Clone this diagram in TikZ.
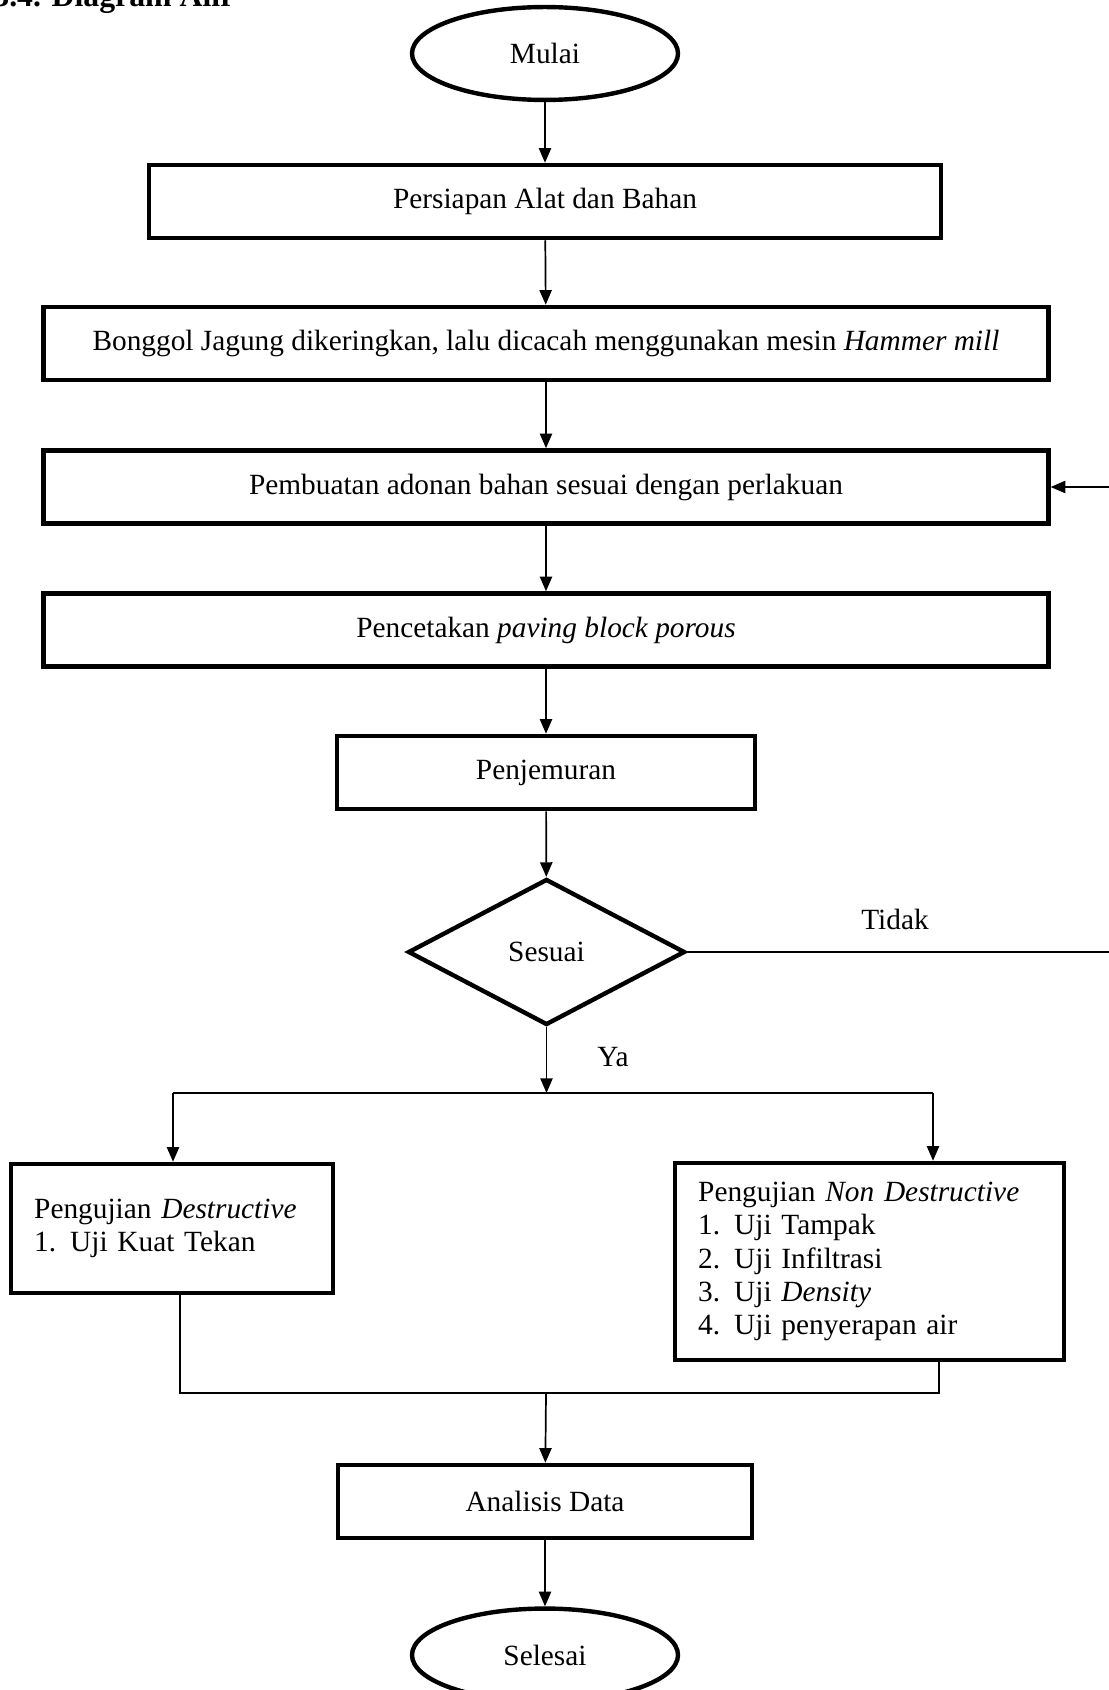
\documentclass[tikz,border=0pt]{standalone}
\usepackage{fontspec}
\setmainfont{Liberation Serif}
\usetikzlibrary{shapes.geometric,arrows.meta}

\newcommand{\itemnum}[1]{\makebox[14.7pt][l]{#1}}

\begin{document}
\begin{tikzpicture}[x=0.409pt,y=-0.409pt,
    font=\fontsize{12}{13.6}\selectfont,
    terminal/.style={ellipse,draw,line width=1.8pt,minimum width=108.8pt,minimum height=38pt,inner sep=0pt},
    process/.style={rectangle,draw,line width=1.8pt,minimum height=29.9pt,inner sep=0pt},
    decision/.style={diamond,draw,line width=1.8pt,minimum width=113.3pt,minimum height=59.7pt,inner sep=0pt},
    testbox/.style={rectangle,draw,line width=1.8pt,align=left,inner xsep=9.5pt,inner ysep=0pt},
    flow/.style={line width=0.7pt,-{Triangle[length=6pt,width=5pt]}},
    link/.style={line width=0.7pt}]
    \useasboundingbox (0,0) rectangle (1109,1690);

    % Heading (cut at the top of the page)
    \node[anchor=base east,font=\fontsize{13}{15}\bfseries\selectfont] (title) at (243,7) {3.4. Diagram Alir};

    % Draw the main steps
    \node[terminal] (mulai) at (545,53.5) {Mulai};
    \node[process,minimum width=324pt] (persiapan) at (545,201.5) {Persiapan Alat dan Bahan};
    \node[process,minimum width=411pt] (bonggol) at (546,343.5) {Bonggol Jagung dikeringkan, lalu dicacah menggunakan mesin \textit{Hammer mill}};
    \node[process,minimum width=411pt] (adonan) at (546,487) {Pembuatan adonan bahan sesuai dengan perlakuan};
    \node[process,minimum width=411pt] (cetak) at (546,630) {Pencetakan \textit{paving block porous}};
    \node[process,minimum width=171pt] (jemur) at (546,772.5) {Penjemuran};
    \node[decision] (sesuai) at (546.5,952) {Sesuai};

    % Draw the test boxes
    \node[testbox,text width=112.7pt,minimum height=52.8pt] (destr) at (172,1228.5)
        {Pengujian \textit{Destructive}\\ \itemnum{1.}Uji Kuat Tekan};
    \node[testbox,text width=140.1pt,minimum height=80.6pt] (nondestr) at (869.5,1261.5)
        {Pengujian \textit{Non Destructive}\\ \itemnum{1.}Uji Tampak\\ \itemnum{2.}Uji Infiltrasi\\
         \itemnum{3.}Uji \textit{Density}\\ \itemnum{4.}Uji penyerapan air};

    \node[process,minimum width=169.3pt] (analisis) at (545,1501.5) {Analisis Data};
    \node[terminal] (selesai) at (545,1655) {Selesai};

    % Branch points
    \coordinate (split) at (546.5,1093);
    \coordinate (splitl) at (173,1093);
    \coordinate (splitr) at (933,1093);
    \coordinate (joinl) at (180,1393);
    \coordinate (joinr) at (939,1393);
    \coordinate (join) at (546,1393);
    \coordinate (back) at (1116,952);

    % Draw the arrows
    \draw[flow] (mulai) -- (persiapan);
    \draw[flow] (persiapan) -- (bonggol);
    \draw[flow] (bonggol) -- (adonan);
    \draw[flow] (adonan) -- (cetak);
    \draw[flow] (cetak) -- (jemur);
    \draw[flow] (jemur) -- (sesuai);
    \draw[flow] (sesuai) -- (split);
    \draw[link] (splitl) -- (splitr);
    \draw[flow] (splitl) -- (splitl |- destr.north);
    \draw[flow] (splitr) -- (splitr |- nondestr.north);
    \draw[link] (joinl |- destr.south) -- (joinl) -- (joinr) -- (joinr |- nondestr.south);
    \draw[flow] (join) -- (analisis);
    \draw[flow] (analisis) -- (selesai);

    % Loop back when the result does not fit
    \draw[flow] (sesuai.east) -- (back) |- (adonan.east);

    % Label the decision
    \node (tidak) at (895,919) {Tidak};
    \node (ya) at (613,1057) {Ya};

\end{tikzpicture}
\end{document}
